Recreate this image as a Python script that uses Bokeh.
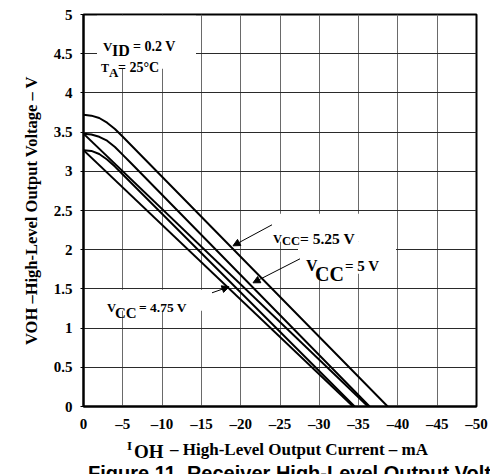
import math
from bokeh.plotting import figure
from bokeh.models import Range1d, FixedTicker, Label, BoxAnnotation, Arrow, NormalHead, Div
from bokeh.layouts import column
from bokeh.embed import file_html
from bokeh.resources import INLINE

# ---- data ----
ioh_525 = [0, -1, -2, -3, -4, -5, -38.7]
voh_525 = [3.72, 3.71, 3.68, 3.62, 3.54, 3.44, 0]
ioh_5a = [0, -1, -2, -3, -4, -5, -6, -36.4]
voh_5a = [3.48, 3.47, 3.44, 3.39, 3.31, 3.21, 3.11, 0]
ioh_5b = [0, -36.2]
voh_5b = [3.48, 0]
ioh_475a = [0, -1, -2, -3, -4, -5, -34.5]
voh_475a = [3.27, 3.26, 3.22, 3.15, 3.06, 2.96, 0]
ioh_475b = [0, -34.3]
voh_475b = [3.27, 0]

x_ticks = [0, -5, -10, -15, -20, -25, -30, -35, -40, -45, -50]
x_tick_labels = ["0", "–5", "–10", "–15", "–20", "–25", "–30", "–35", "–40", "–45", "–50"]
y_ticks = [0, 0.5, 1, 1.5, 2, 2.5, 3, 3.5, 4, 4.5, 5]
y_tick_labels = ["0", "0.5", "1", "1.5", "2", "2.5", "3", "3.5", "4", "4.5", "5"]

SERIF = "Liberation Serif"

# picture-pixel -> data helpers for annotation placement
FX0, PXMA, FY0, PXV = 83.5, 7.86, 405.7, 78.4
def dx(px):
    return -(px - FX0) / PXMA
def dy(py):
    return (FY0 - py) / PXV

p = figure(x_range=Range1d(0, -50), y_range=Range1d(0, 5),
           frame_width=393, frame_height=392,
           min_border_left=83, min_border_right=14, min_border_top=14, min_border_bottom=28,
           output_backend="svg", toolbar_location=None, background_fill_color="white")

p.outline_line_color = "black"
p.outline_line_width = 2

p.xaxis.ticker = FixedTicker(ticks=x_ticks)
p.yaxis.ticker = FixedTicker(ticks=y_ticks)
p.xaxis.major_label_overrides = {t: l for t, l in zip(x_ticks, x_tick_labels)}
p.yaxis.major_label_overrides = {t: l for t, l in zip(y_ticks, y_tick_labels)}
for ax in (p.xaxis, p.yaxis):
    ax.major_label_text_font = SERIF
    ax.major_label_text_font_style = "bold"
    ax.major_label_text_font_size = "15px"
    ax.major_label_text_color = "black"
    ax.axis_line_color = "black"
    ax.axis_line_width = 2
    ax.minor_tick_line_color = None
    ax.major_tick_in = 0
p.xaxis.major_tick_out = 0
p.xaxis.major_label_standoff = 9
p.yaxis.major_tick_out = 3
p.yaxis.major_tick_line_color = "black"
p.yaxis.major_label_standoff = 8
p.yaxis.axis_label = "VOH –High-Level Output Voltage – V"
p.yaxis.axis_label_text_font = SERIF
p.yaxis.axis_label_text_font_style = "bold"
p.yaxis.axis_label_text_font_size = "16.5px"
p.yaxis.axis_label_text_color = "black"
p.yaxis.axis_label_standoff = 10

p.xgrid.grid_line_color = "#6a6a6a"
p.ygrid.grid_line_color = "#2a2a2a"
p.xgrid.grid_line_width = 1
p.ygrid.grid_line_width = 1

# white boxes behind the annotation texts (they interrupt the grid)
for (l, r, t, b) in [(97, 196, 15, 68), (270, 396, 213, 241), (298, 396, 241, 273), (100, 213, 289, 310)]:
    p.add_layout(BoxAnnotation(left=dx(l), right=dx(r), top=dy(t), bottom=dy(b),
                               fill_color="white", fill_alpha=1, line_color=None, level="underlay"))

for xs, ys in [(ioh_525, voh_525), (ioh_5a, voh_5a), (ioh_5b, voh_5b),
               (ioh_475a, voh_475a), (ioh_475b, voh_475b)]:
    p.line(xs, ys, line_color="black", line_width=2)

def lab(text, px, py, size, font=SERIF, style="bold"):
    p.add_layout(Label(x=dx(px), y=dy(py), text=text, text_font=font, text_font_style=style,
                       text_font_size=f"{size}px", text_color="black", text_baseline="alphabetic",
                       text_align="left"))

# VID / TA
lab("V", 103, 46, 13); lab("ID", 112, 50, 16); lab("= 0.2 V", 133, 46, 14)
lab("T", 101, 67, 12); lab("A", 109, 72, 13); lab("= 25°C", 118, 67, 14)
# VCC labels
lab("V", 273, 238, 12.5); lab("CC", 282, 240, 12.5); lab("= 5.25 V", 300, 238, 15.5)
lab("V", 306, 265, 16); lab("CC", 315, 273, 20); lab("= 5 V", 345, 265, 15)
lab("V", 107, 307, 12.5); lab("CC", 115, 312, 15); lab("= 4.75 V", 139, 307, 13.5)

# arrows
for (x0, y0, x1, y1) in [(272, 224, 233, 245), (300, 258, 253, 282), (212, 292, 229, 286)]:
    p.add_layout(Arrow(end=NormalHead(size=7, fill_color="black", line_color="black", line_width=1),
                       x_start=dx(x0), y_start=dy(y0), x_end=dx(x1), y_end=dy(y1),
                       line_color="black", line_width=1))

# x-axis title and caption (below the plot, HTML text)
TOP = 434
def span(text, left, baseline, size, font="'Liberation Serif'", asc=0.8375):
    top = baseline - asc * size - TOP
    return (f'<span style="position:absolute;left:{left}px;top:{top:.1f}px;font-size:{size}px;'
            f'line-height:{size}px;font-family:{font};font-weight:bold;white-space:nowrap;color:black">{text}</span>')

html = ('<div style="position:relative;width:490px;height:40px;overflow:hidden">'
        + span("I", 127, 450, 13)
        + span("OH", 134, 457.5, 19)
        + span("– High-Level Output Current – mA", 170, 455, 17)
        + span("Figure 11. Receiver High-Level Output Voltage vs High-Level Output Current",
               88, 480, 20, font="'Liberation Sans'", asc=0.8465)
        + '</div>')
div = Div(text=html, width=490, height=40, margin=0)

layout = column(p, div, spacing=0)
open("out.html", "w").write(file_html(layout, INLINE))
